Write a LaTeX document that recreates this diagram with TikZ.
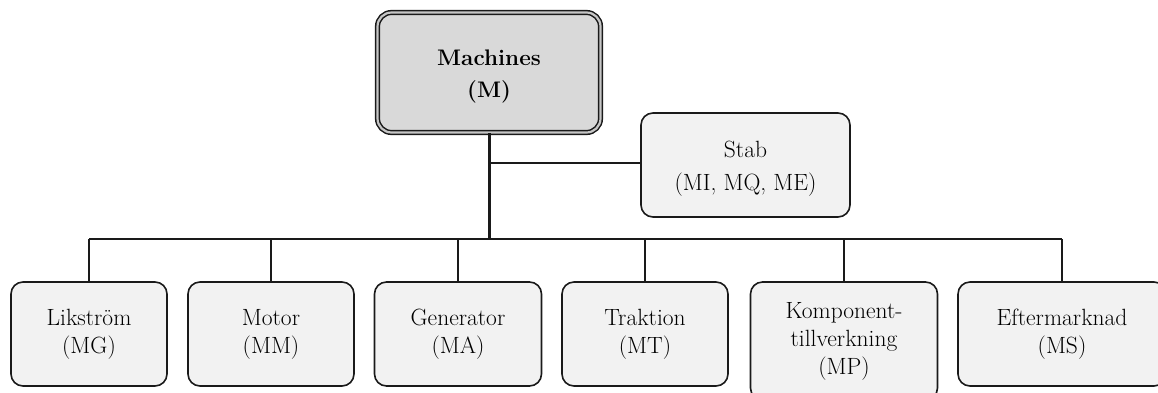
\documentclass[tikz,border=0pt]{standalone}
\usepackage{fontspec}
\usetikzlibrary{positioning}
\definecolor{headfill}{HTML}{D9D9D9}
\definecolor{unitfill}{HTML}{F2F2F2}
\definecolor{edgecol}{HTML}{1A1A1A}
\tikzset{
  unit/.style={rectangle, rounded corners=12pt, draw=edgecol, line width=1.6pt,
    fill=unitfill, inner sep=0pt, align=center,
    font=\fontsize{23.5}{28}\selectfont},
  head/.style={rectangle, rounded corners=14pt, draw=edgecol, line width=1.5pt,
    double=gray!45, double distance=2.2pt, fill=headfill, inner sep=0pt},
  headtext/.style={inner sep=0pt, align=center,
    font=\fontsize{22.5}{31.5}\selectfont\bfseries},
  stabtext/.style={inner sep=0pt, align=center,
    font=\fontsize{23.5}{33}\selectfont},
  trunk/.style={draw=edgecol, line width=3pt},
  bus/.style={draw=edgecol, line width=2.4pt},
  drop/.style={draw=edgecol, line width=1.7pt}
}
\begin{document}
\begin{tikzpicture}[x=1pt,y=1pt]
\useasboundingbox (0,0) rectangle (1158,-392);

% head of the organisation
\node[head, minimum width=223pt, minimum height=120pt] (M) at (489,-72.5) {};
\node[headtext] (Mt) at ([yshift=-4pt]M.center) {Machines\\(M)};

% staff unit
\node[unit, minimum width=209pt, minimum height=104pt] (S) at (745.5,-165) {};
\node[stabtext] (St) at ([yshift=-4pt]S.center) {Stab\\(MI, MQ, ME)};

% departments
\node[unit, minimum width=156pt, minimum height=104pt] (MG) at (89,-334) {Likström\\(MG)};
\node[unit, minimum width=166pt, minimum height=104pt] (MM) at (271,-334) {Motor\\(MM)};
\node[unit, minimum width=167pt, minimum height=104pt] (MA) at (458,-334) {Generator\\(MA)};
\node[unit, minimum width=166pt, minimum height=104pt] (MT) at (645,-334) {Traktion\\(MT)};
\node[unit, minimum width=187pt, minimum height=118pt] (MP) at (844,-341) {Komponent-\\tillverkning\\(MP)};
\node[unit, minimum width=208pt, minimum height=104pt] (MS) at (1062,-334) {Eftermarknad\\(MS)};

% connectors
\coordinate (J) at (489,-239);
\coordinate (JS) at (489,-163);
\draw[trunk] (M.south) -- (J);
\draw[drop] (JS) -- (JS -| S.west);
\draw[bus] (J -| MG.north) -- (J -| MS.north);
\foreach \d in {MG,MM,MA,MT,MP,MS}
  \draw[drop] (J -| \d.north) -- (\d.north);
\end{tikzpicture}
\end{document}
